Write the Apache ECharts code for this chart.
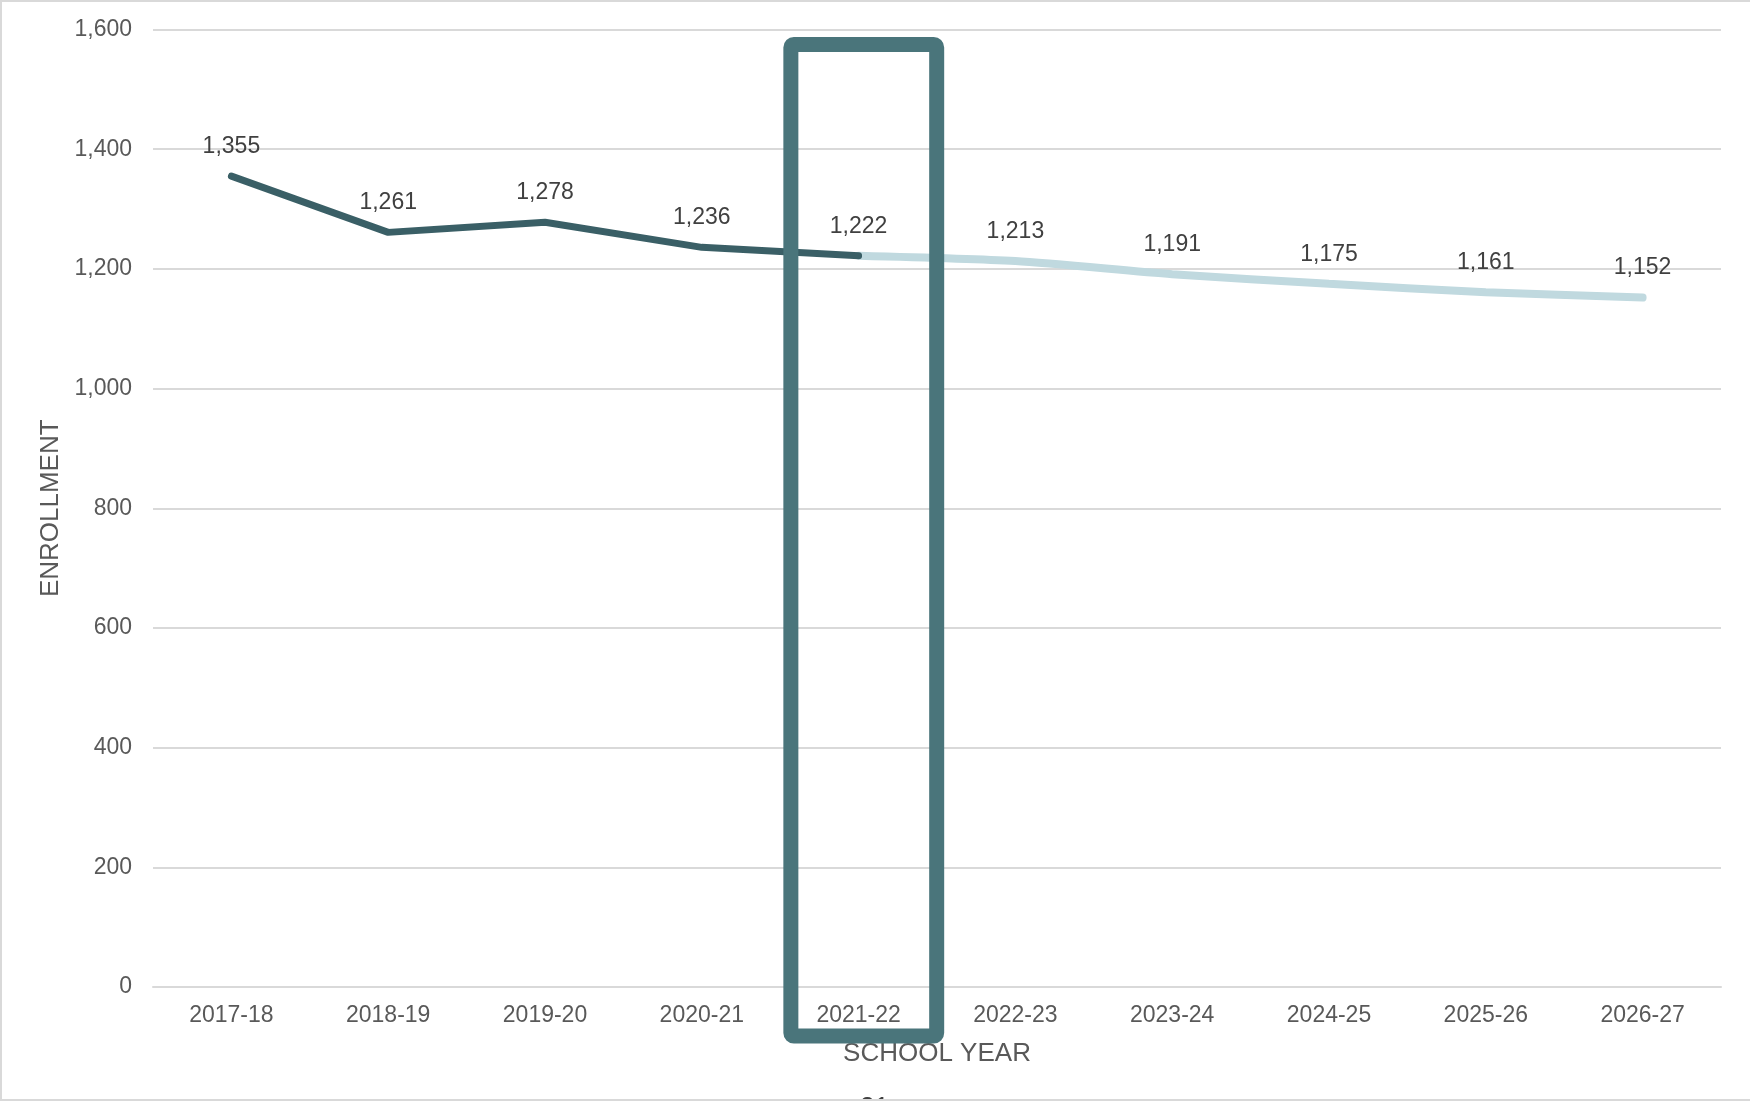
<!DOCTYPE html>
<html>
<head>
<meta charset="utf-8">
<script src="https://cdn.jsdelivr.net/npm/echarts@6/dist/echarts.min.js"></script>
<style>
html,body{margin:0;padding:0;background:#fff;}
#frame{position:absolute;left:0;top:0;width:1750px;height:1101px;box-sizing:border-box;border-left:2px solid #d9d9d9;border-top:2px solid #d9d9d9;border-bottom:2px solid #d9d9d9;pointer-events:none;}
#chart{position:absolute;left:0;top:0;width:1750px;height:1101px;}
</style>
</head>
<body>
<div id="chart"></div>
<div id="frame"></div>
<script>
const categories = ['2017-18','2018-19','2019-20','2020-21','2021-22','2022-23','2023-24','2024-25','2025-26','2026-27'];
const actual = [1355, 1261, 1278, 1236, 1222, null, null, null, null, null];
const projected = [null, null, null, null, 1222, 1213, 1191, 1175, 1161, 1152];
const yTicks = [0, 200, 400, 600, 800, 1000, 1200, 1400, 1600];
const highlightCategory = '2021-22';
const highlightTopValue = 1575;
const highlightBottomValue = -82;

const FONT = '"Liberation Sans", Arial, sans-serif';
const chart = echarts.init(document.getElementById('chart'), null, {renderer:'canvas'});
const fmt = v => Number(v).toLocaleString('en-US');

chart.setOption({
  animation: false,
  grid: {left: 153, right: 29, top: 29.5, bottom: 114, containLabel: false},
  xAxis: {
    type: 'category',
    data: categories,
    boundaryGap: true,
    name: 'SCHOOL YEAR',
    nameLocation: 'middle',
    nameGap: 54,
    nameTextStyle: {fontFamily: FONT, fontSize: 26, color: '#595959'},
    axisLine: {show: true, lineStyle: {color: '#d9d9d9', width: 2}},
    axisTick: {show: false},
    axisLabel: {fontFamily: FONT, fontSize: 23, color: '#595959', margin: 17}
  },
  yAxis: {
    type: 'value',
    min: yTicks[0],
    max: yTicks[yTicks.length-1],
    interval: yTicks[1]-yTicks[0],
    name: 'ENROLLMENT',
    nameLocation: 'middle',
    nameGap: 89,
    nameTextStyle: {fontFamily: FONT, fontSize: 26, color: '#595959'},
    axisLine: {show: false},
    axisTick: {show: false},
    axisLabel: {fontFamily: FONT, fontSize: 23, color: '#595959', margin: 21, formatter: fmt},
    splitLine: {show: true, lineStyle: {color: '#d9d9d9', width: 2}}
  },
  series: [
    {
      type: 'line',
      data: projected,
      smooth: 0.25,
      symbol: 'circle',
      symbolSize: 0,
      showSymbol: true,
      z: 2,
      itemStyle: {color: '#c0d9df'},
      lineStyle: {color: '#c0d9df', width: 8, cap: 'round'},
      label: {
        show: true, position: 'top', distance: 18,
        fontFamily: FONT, fontSize: 23, color: '#404040',
        formatter: p => (p.dataIndex === 4 ? '' : fmt(p.value))
      }
    },
    {
      type: 'line',
      data: actual,
      symbol: 'circle',
      symbolSize: 0,
      showSymbol: true,
      z: 3,
      itemStyle: {color: '#3a5f66'},
      lineStyle: {color: '#3a5f66', width: 7, cap: 'round', join: 'round'},
      label: {
        show: true, position: 'top', distance: 18,
        fontFamily: FONT, fontSize: 23, color: '#404040',
        formatter: p => fmt(p.value)
      }
    }
  ]
});

function drawHighlight(){
  const idx = categories.indexOf(highlightCategory);
  const c = chart.convertToPixel({xAxisIndex: 0}, idx);
  const c2 = chart.convertToPixel({xAxisIndex: 0}, idx + 1);
  const band = c2 - c;
  const yTop = chart.convertToPixel({yAxisIndex: 0}, highlightTopValue);
  const yBot = chart.convertToPixel({yAxisIndex: 0}, highlightBottomValue);
  const x0 = c - 0.432 * band, x1 = c + 0.498 * band;
  chart.setOption({
    graphic: [
      {
        type: 'rect', z: 100,
        shape: {x: x0, y: yTop, width: x1 - x0, height: yBot - yTop, r: 3},
        style: {fill: 'none', stroke: '#4a757b', lineWidth: 15}
      },
      {
        type: 'text', z: 100, left: 860, top: 1095,
        style: {text: '21', font: '26px ' + FONT, fill: '#404040'}
      }
    ]
  });
}
drawHighlight();
</script>
</body>
</html>
